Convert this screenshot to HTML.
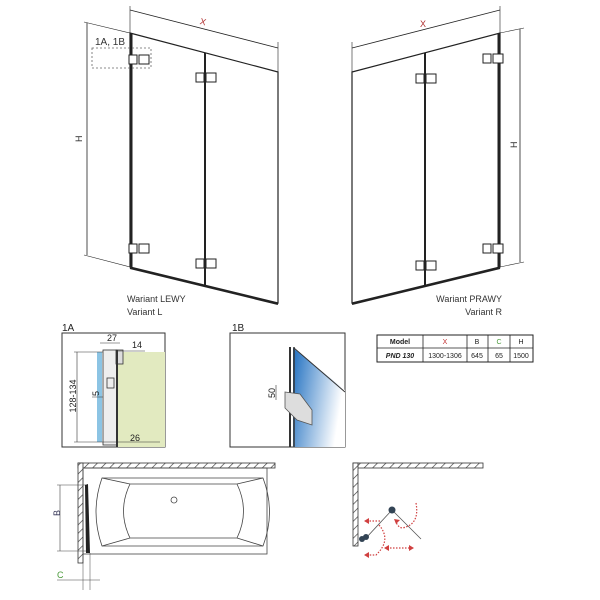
<!DOCTYPE html>
<html><head><meta charset="utf-8"><style>
body{margin:0;background:#fff}
svg{display:block;font-family:"Liberation Sans",sans-serif}
</style></head><body>
<svg width="600" height="600" viewBox="0 0 600 600" xmlns="http://www.w3.org/2000/svg">
<defs>
<pattern id="hatch" width="6" height="6" patternUnits="userSpaceOnUse" patternTransform="rotate(45)">
<rect width="6" height="6" fill="#fff"/><line x1="0" y1="0" x2="0" y2="6" stroke="#333" stroke-width="1.3"/></pattern>
<linearGradient id="glass" x1="0" y1="0" x2="1" y2="0.3"><stop offset="0" stop-color="#1f6fc0"/><stop offset="1" stop-color="#ffffff"/></linearGradient>
<g id="hinge"><rect x="-9" y="-4" width="8" height="9" fill="#fff" stroke="#222" stroke-width="1"/><rect x="1" y="-4" width="10" height="9" fill="#fff" stroke="#222" stroke-width="1"/></g>
</defs>
<!-- LEFT VARIANT -->
<g stroke="#222" fill="none">
<line x1="130" y1="10" x2="278" y2="48" stroke-width="0.8"/>
<line x1="130" y1="6" x2="130" y2="33" stroke-width="0.6"/>
<line x1="278" y1="42" x2="278" y2="72" stroke-width="0.6"/>
<line x1="87" y1="23" x2="87" y2="255" stroke-width="0.8"/>
<line x1="84" y1="22" x2="130" y2="33" stroke-width="0.6"/>
<line x1="84" y1="255" x2="130" y2="267" stroke-width="0.6"/>
<polygon points="130,33 278,72 278,303 130,267" stroke-width="1.2"/>
<line x1="131" y1="33" x2="131" y2="267" stroke-width="3"/>
<line x1="205" y1="53" x2="205" y2="285" stroke-width="2"/>
<line x1="130" y1="268" x2="278" y2="304" stroke-width="2"/>
<rect x="92" y="48" width="59" height="20" stroke-dasharray="2,2" stroke="#666" stroke-width="0.8"/>
</g>
<use href="#hinge" x="138" y="59"/><use href="#hinge" x="138" y="248"/>
<use href="#hinge" x="205" y="77"/><use href="#hinge" x="205" y="263"/>
<text x="200" y="25" font-size="9" fill="#b03030" transform="rotate(14 204 22)">X</text>
<text x="78" y="142" font-size="9" fill="#333" transform="rotate(-90 80 140)">H</text>
<text x="95" y="45" font-size="10" fill="#333">1A, 1B</text>
<text x="127" y="302" font-size="9" fill="#333">Wariant LEWY</text>
<text x="127" y="315" font-size="9" fill="#333">Variant L</text>
<!-- RIGHT VARIANT -->
<g stroke="#222" fill="none">
<line x1="352" y1="48" x2="500" y2="10" stroke-width="0.8"/>
<line x1="352" y1="42" x2="352" y2="72" stroke-width="0.6"/>
<line x1="500" y1="6" x2="500" y2="33" stroke-width="0.6"/>
<line x1="520" y1="29" x2="520" y2="262" stroke-width="0.8"/>
<line x1="500" y1="33" x2="524" y2="28" stroke-width="0.6"/>
<line x1="500" y1="267" x2="524" y2="262" stroke-width="0.6"/>
<polygon points="352,72 500,33 500,267 352,303" stroke-width="1.2"/>
<line x1="499" y1="33" x2="499" y2="267" stroke-width="3"/>
<line x1="425" y1="53" x2="425" y2="285" stroke-width="2"/>
<line x1="352" y1="304" x2="500" y2="268" stroke-width="2"/>
</g>
<use href="#hinge" x="492" y="58"/><use href="#hinge" x="492" y="248"/>
<use href="#hinge" x="425" y="78"/><use href="#hinge" x="425" y="265"/>
<text x="420" y="27" font-size="9" fill="#b03030">X</text>
<text x="511" y="148" font-size="9" fill="#333" transform="rotate(-90 514 145)">H</text>
<text x="502" y="302" font-size="9" fill="#333" text-anchor="end">Wariant PRAWY</text>
<text x="502" y="315" font-size="9" fill="#333" text-anchor="end">Variant R</text>
<!-- 1A -->
<text x="62" y="331" font-size="10" fill="#222">1A</text>
<rect x="62" y="333" width="103" height="114" fill="#fff" stroke="#333"/>
<rect x="118" y="352" width="47" height="95" fill="#e2eac0"/>
<rect x="97" y="352" width="5" height="90" fill="#8cc4e4"/>
<g stroke="#333" fill="none" stroke-width="0.8">
<rect x="103" y="350" width="14" height="95" fill="#eee"/>
<rect x="116" y="350" width="7" height="14" fill="#ddd"/>
<rect x="107" y="378" width="7" height="10"/>
<line x1="117" y1="350" x2="117" y2="447" stroke-width="2"/>
<line x1="100" y1="343" x2="120" y2="343" stroke-width="0.6"/>
<line x1="118" y1="351" x2="145" y2="351" stroke-width="0.6"/>
<line x1="77" y1="352" x2="77" y2="442" stroke-width="0.6"/>
<line x1="74" y1="352" x2="103" y2="352" stroke-width="0.5"/>
<line x1="74" y1="442" x2="160" y2="442" stroke-width="0.5"/>
<line x1="92" y1="397" x2="103" y2="397" stroke-width="0.5"/>
</g>
<text x="107" y="341" font-size="9" fill="#222">27</text>
<text x="132" y="348" font-size="9" fill="#222">14</text>
<text x="130" y="441" font-size="9" fill="#222">26</text>
<text x="93" y="396" font-size="9" fill="#222" transform="rotate(-90 96 393)">5</text>
<text x="74" y="398" font-size="9" fill="#222" transform="rotate(-90 74 396)" text-anchor="middle">128-134</text>
<!-- 1B -->
<text x="232" y="331" font-size="10" fill="#222">1B</text>
<rect x="230" y="333" width="115" height="114" fill="#fff" stroke="#333"/>
<polygon points="293,348 345,390 345,447 293,447" fill="url(#glass)"/>
<line x1="294" y1="348" x2="345" y2="392" stroke="#333"/>
<line x1="290" y1="347" x2="290" y2="447" stroke="#333" stroke-width="2"/>
<line x1="294" y1="347" x2="294" y2="447" stroke="#333" stroke-width="1.5"/>
<polygon points="285,392 300,394 312,410 312,425 297,420 285,408" fill="#ddd" stroke="#555" stroke-width="0.8"/>
<line x1="276" y1="385" x2="276" y2="400" stroke="#333" stroke-width="0.6"/>
<text x="272" y="396" font-size="9" fill="#222" transform="rotate(-90 272 393)" text-anchor="middle">50</text>
<!-- TABLE -->
<g font-size="7" fill="#222" text-anchor="middle">
<rect x="377" y="335" width="156" height="27" fill="#fff" stroke="#222"/>
<g stroke="#222" stroke-width="0.8"><line x1="377" y1="348" x2="533" y2="348"/><line x1="423" y1="335" x2="423" y2="362"/><line x1="467" y1="335" x2="467" y2="362"/><line x1="488" y1="335" x2="488" y2="362"/><line x1="510" y1="335" x2="510" y2="362"/></g>
<text x="400" y="344" font-weight="bold">Model</text><text x="445" y="344" fill="#c03030">X</text><text x="477" y="344">B</text><text x="499" y="344" fill="#4a9a3a">C</text><text x="521" y="344">H</text>
<text x="400" y="358" font-weight="bold" font-style="italic">PND 130</text><text x="445" y="358">1300-1306</text><text x="477" y="358">645</text><text x="499" y="358">65</text><text x="521" y="358">1500</text>
</g>
<!-- BATH PLAN -->
<rect x="78" y="463" width="197" height="5" fill="url(#hatch)" stroke="#333" stroke-width="0.8"/>
<rect x="78" y="463" width="5" height="100" fill="url(#hatch)" stroke="#333" stroke-width="0.8"/>
<g stroke="#444" fill="none" stroke-width="0.8">
<rect x="83" y="468" width="184" height="86"/>
<path d="M102,478 L263,478 Q276,512 263,546 L102,546 Q90,512 102,478 Z"/>
<path d="M130,484 L237,484 Q250,511 237,538 L130,538 Q117,511 130,484 Z"/>
<line x1="102" y1="478" x2="130" y2="484"/><line x1="263" y1="478" x2="237" y2="484"/>
<line x1="102" y1="546" x2="130" y2="538"/><line x1="263" y1="546" x2="237" y2="538"/>
<circle cx="174" cy="500" r="3"/>
<line x1="60" y1="485" x2="60" y2="551" stroke-width="0.6"/>
<line x1="57" y1="485" x2="86" y2="485" stroke-width="0.5"/>
<line x1="57" y1="551" x2="86" y2="551" stroke-width="0.5"/>
<line x1="83" y1="553" x2="83" y2="590" stroke-width="0.5"/>
<line x1="90" y1="553" x2="90" y2="590" stroke-width="0.5"/>
<line x1="57" y1="580" x2="100" y2="580" stroke-width="0.5"/>
</g>
<path d="M85,485 L88,484 L90,553 L86,553 Z" fill="#222"/>
<text x="58" y="520" font-size="9" fill="#335" transform="rotate(-90 57 517)">B</text>
<text x="57" y="578" font-size="9" fill="#4a9a3a">C</text>
<!-- FOLD PLAN -->
<rect x="353" y="463" width="130" height="5" fill="url(#hatch)" stroke="#333" stroke-width="0.8"/>
<rect x="353" y="463" width="5" height="83" fill="url(#hatch)" stroke="#333" stroke-width="0.8"/>
<g stroke="#555" fill="none" stroke-width="0.8"><line x1="366" y1="538" x2="392" y2="510"/><line x1="392" y1="510" x2="421" y2="539"/></g>
<circle cx="362" cy="539" r="3" fill="#345"/><circle cx="366" cy="537" r="3" fill="#345"/><circle cx="392" cy="510" r="3.5" fill="#345"/>
<g stroke="#d04040" fill="none" stroke-width="1.2" stroke-dasharray="1.5,1.5">
<path d="M380,521 L369,521"/><path d="M379,525 Q392,540 376,555 L368,555"/>
<path d="M387,548 L410,548"/><path d="M416,503 Q420,525 402,528 Q398,527 396,522"/>
</g>
<g fill="#d04040"><polygon points="364,521 369,518 369,524"/><polygon points="364,555 369,552 369,558"/><polygon points="384,548 389,545 389,551"/><polygon points="414,548 409,545 409,551"/><polygon points="394,519 400,520 396,524"/></g>
</svg>
</body></html>
